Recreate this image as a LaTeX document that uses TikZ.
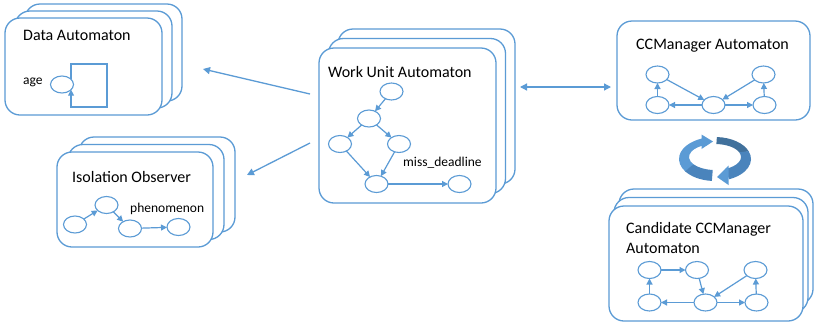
\documentclass[tikz,border=0pt]{standalone}
\usepackage{fontspec}
\setmainfont{Carlito}
\usetikzlibrary{arrows.meta,shapes.geometric}
\definecolor{ofblue}{HTML}{5B9BD5}
\definecolor{ofdark}{HTML}{41719C}
\definecolor{ofmid}{HTML}{4A84BC}

\begin{document}
\begin{tikzpicture}[x=1pt,y=-1pt,
  panel/.style={draw=ofblue, line width=1.3pt, fill=white, rounded corners=15pt,
    rectangle, inner sep=0pt, outer sep=0pt, anchor=north west},
  state/.style={draw=ofblue, line width=1.1pt, ellipse, minimum width=23pt,
    minimum height=17pt, inner sep=0pt, outer sep=0pt},
  edge/.style={draw=ofblue, line width=1.2pt, -{Triangle[length=6pt,width=6pt]}},
  link/.style={draw=ofblue, line width=1.3pt, -{Triangle[length=7pt,width=7pt]}},
  title/.style={font=\fontsize{16}{20}\selectfont, anchor=base west, inner sep=0pt,
    text=black},
  lab/.style={font=\fontsize{13.5}{16}\selectfont, anchor=base west, inner sep=0pt,
    text=black},
]
\useasboundingbox (0,0) rectangle (814,325);
\fill[white] (0,0) rectangle (814,325);

% ---------- Data Automaton (stack of three) ----------
\node[panel, minimum width=157pt, minimum height=97pt] (dataC) at (25,4) {};
\node[panel, minimum width=157pt, minimum height=97pt] (dataB) at (15,11) {};
\node[panel, minimum width=157pt, minimum height=97pt] (dataA) at (5,18) {};
\node[title] (dataT) at (23,40) {Data Automaton};
\node[lab] (ageL) at (23,84.5) {age};
\node[state] (age) at (62,84.5) {};
\coordinate (loopA) at (107,64);
\coordinate (loopB) at (107,107);
\draw[edge] (age.30) |- (loopA) -- (loopB) -| (age.330);

% ---------- Isolation Observer (stack of three) ----------
\node[panel, minimum width=156pt, minimum height=95pt] (isoC) at (79,137) {};
\node[panel, minimum width=156pt, minimum height=95pt] (isoB) at (68,144.5) {};
\node[panel, minimum width=156pt, minimum height=95pt] (isoA) at (57,152) {};
\node[title] (isoT) at (72,182) {Isolation Observer};
\node[state] (i1) at (75,224.5) {};
\node[state] (i2) at (106.5,205) {};
\node[state] (i3) at (130,228.5) {};
\node[state] (i4) at (178.5,227) {};
\node[lab] (phen) at (130,212) {phenomenon};
\draw[edge] (i1) -- (i2);
\draw[edge] (i2) -- (i3);
\draw[edge] (i3) -- (i4);

% ---------- Work Unit Automaton (stack of three) ----------
\node[panel, minimum width=177pt, minimum height=155pt] (wuC) at (338,29) {};
\node[panel, minimum width=177pt, minimum height=155pt] (wuB) at (328.5,38.5) {};
\node[panel, minimum width=177pt, minimum height=155pt] (wuA) at (319,48) {};
\node[title] (wuT) at (328,77) {Work Unit Automaton};
\node[state] (w1) at (391.5,91.5) {};
\node[state] (w2) at (369,118.5) {};
\node[state] (w3) at (340,144) {};
\node[state] (w4) at (399,144) {};
\node[state] (w5) at (376.5,184) {};
\node[state] (w6) at (459.5,184) {};
\node[lab] (miss) at (403,166) {miss\_deadline};
\draw[edge] (w1) -- (w2);
\draw[edge] (w2) -- (w3);
\draw[edge] (w2) -- (w4);
\draw[edge] (w3) -- (w5);
\draw[edge] (w4) -- (w5);
\draw[edge] (w5) -- (w6);

% ---------- CCManager Automaton ----------
\node[panel, minimum width=193pt, minimum height=99pt] (ccm) at (617,21) {};
\node[title] (ccmT) at (636,49) {CCManager Automaton};
\node[state] (c1) at (657.5,74.5) {};
\node[state] (c2) at (657.5,105) {};
\node[state] (c3) at (713.5,105) {};
\node[state] (c4) at (763.5,74.5) {};
\node[state] (c5) at (764.5,105) {};
\draw[edge] (c2) -- (c1);
\draw[edge] (c1) -- (c3);
\draw[edge] (c3) -- (c2);
\draw[edge] (c3) -- (c5);
\draw[edge] (c5) -- (c4);
\draw[edge] (c4) -- (c3);

% ---------- Candidate CCManager Automaton (stack of three) ----------
\node[panel, minimum width=194pt, minimum height=115pt] (candC) at (619,189) {};
\node[panel, minimum width=194pt, minimum height=115pt] (candB) at (614,197.5) {};
\node[panel, minimum width=194pt, minimum height=115pt] (candA) at (609,206) {};
\node[title, align=left] (candT) at (626,253) {Candidate CCManager\\Automaton};
\node[state] (d1) at (649.5,270) {};
\node[state] (d2) at (697,270) {};
\node[state] (d3) at (755.5,270) {};
\node[state] (d4) at (649.5,302.5) {};
\node[state] (d5) at (705.5,302.5) {};
\node[state] (d6) at (756.5,302.5) {};
\draw[edge] (d1) -- (d2);
\draw[edge] (d2) -- (d5);
\draw[edge] (d3) -- (d5);
\draw[edge] (d4) -- (d1);
\draw[edge] (d5) -- (d4);
\draw[edge] (d5) -- (d6);
\draw[edge] (d6) -- (d3);

% ---------- links between the automata ----------
\coordinate (wuOutA) at (310,94);
\coordinate (dataIn) at (203,69);
\coordinate (wuOutB) at (310,143);
\coordinate (isoIn) at (247,175);
\coordinate (wuSide) at (520,87);
\coordinate (ccmSide) at (611,87);
\draw[link] (wuOutA) -- (dataIn);
\draw[link] (wuOutB) -- (isoIn);
\draw[link, {Triangle[length=7pt,width=7pt]}-{Triangle[length=7pt,width=7pt]}] (wuSide) -- (ccmSide);

% ---------- refresh cycle icon ----------
\begin{scope}[shift={(715,159)}, yscale=-1]
  % left ribbon, light upper part
  \fill[ofblue] (111:36 and 22) arc[start angle=111, end angle=215, x radius=36, y radius=22]
    -- ([shift={(0,2)}]215:26 and 13) arc[start angle=215, end angle=111, x radius=26, y radius=13] -- cycle;
  % left ribbon, darker lower part
  \fill[ofmid] (214:36 and 22) arc[start angle=214, end angle=265, x radius=36, y radius=22]
    -- ([shift={(0,2)}]265:26 and 13) arc[start angle=265, end angle=214, x radius=26, y radius=13] -- cycle;
  % head pointing right at the top
  \fill[ofblue] (-13.5,24.5) -- (-2,17.5) -- (-13.5,10) -- cycle;
  % right ribbon, dark upper part
  \fill[ofdark] (87:36 and 22) arc[start angle=87, end angle=20, x radius=36, y radius=22]
    -- ([shift={(0,2)}]20:26 and 13) arc[start angle=20, end angle=87, x radius=26, y radius=13] -- cycle;
  % right ribbon, lighter lower part
  \fill[ofmid] (21:36 and 22) arc[start angle=21, end angle=-67, x radius=36, y radius=22]
    -- ([shift={(0,2)}]-67:26 and 13) arc[start angle=-67, end angle=21, x radius=26, y radius=13] -- cycle;
  % head pointing left at the bottom
  \fill[ofblue] (13.5,-6.5) -- (2,-18) -- (13.5,-26) -- cycle;
\end{scope}
\end{tikzpicture}
\end{document}
